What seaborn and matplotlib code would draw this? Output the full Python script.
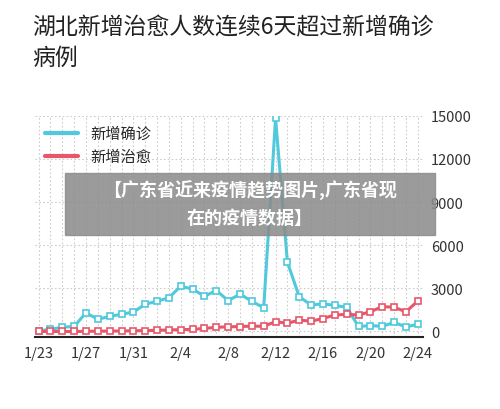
import matplotlib
matplotlib.use("Agg")
import matplotlib.pyplot as plt
import seaborn as sns
import pandas as pd

dates = ["1/23", "1/24", "1/25", "1/26", "1/27", "1/28", "1/29", "1/30", "1/31",
         "2/1", "2/2", "2/3", "2/4", "2/5", "2/6", "2/7", "2/8", "2/9", "2/10",
         "2/11", "2/12", "2/13", "2/14", "2/15", "2/16", "2/17", "2/18", "2/19",
         "2/20", "2/21", "2/22", "2/23", "2/24"]
confirmed = [50, 150, 300, 350, 1300, 850, 1050, 1200, 1350, 1900, 2100, 2350,
             3150, 2950, 2450, 2850, 2150, 2600, 2100, 1650, 14840, 4820, 2420,
             1840, 1930, 1810, 1690, 350, 410, 360, 630, 320, 500]
cured = [0, 0, 0, 0, 15, 20, 30, 35, 50, 65, 80, 110, 130, 145, 215, 290,
         325, 345, 375, 360, 685, 575, 790, 720, 900, 1150, 1190, 1150,
         1370, 1730, 1690, 1370, 2120]
tick_labels = ["1/23", "1/27", "1/31", "2/4", "2/8", "2/12", "2/16", "2/20", "2/24"]

sns.set_style("white")
plt.rcParams["font.family"] = ["Noto Sans CJK SC", "DejaVu Sans"]

df = pd.DataFrame({"x": range(len(dates)), "confirmed": confirmed, "cured": cured})

fig = plt.figure(figsize=(5, 4.1), dpi=100)
ax = fig.add_axes([0.07, 0.175, 0.775, 0.54])
blue, red = "#4fc9db", "#e8566a"
sns.lineplot(data=df, x="x", y="confirmed", ax=ax, color=blue, lw=2.2,
             marker="s", markersize=4.5, markerfacecolor="white",
             markeredgecolor=blue, markeredgewidth=1.2, label="新增确诊")
sns.lineplot(data=df, x="x", y="cured", ax=ax, color=red, lw=2.2,
             marker="s", markersize=4.5, markerfacecolor="white",
             markeredgecolor=red, markeredgewidth=1.2, label="新增治愈")

ax.set_xlim(-0.3, len(dates) - 0.6)
ax.set_ylim(-400, 15000)
ax.yaxis.tick_right()
ax.set_yticks([0, 3000, 6000, 9000, 12000, 15000])
ax.set_xticks([dates.index(t) for t in tick_labels])
ax.set_xticklabels(tick_labels)
ax.set_xlabel("")
ax.set_ylabel("")
ax.tick_params(labelsize=10.5, colors="#333333", length=0, pad=6)
ax.set_xticks(range(len(dates)), minor=True)
ax.grid(True, which="both", axis="x", ls=(0, (1.5, 2)), color="#cccccc", lw=0.8)
ax.grid(True, axis="y", ls=(0, (1.5, 2)), color="#cccccc", lw=0.8)
for s in ["top", "right", "left"]:
    ax.spines[s].set_visible(False)
ax.spines["bottom"].set_color("#222222")
ax.spines["bottom"].set_linewidth(1.5)
ax.legend(loc="upper left", frameon=False, fontsize=11, handlelength=2.2,
          bbox_to_anchor=(-0.01, 1.02), labelspacing=0.4)
for line in ax.get_legend().get_lines():
    line.set_marker("")
    line.set_linewidth(3)

fig.text(0.065, 0.96, "湖北新增治愈人数连续6天超过新增确诊", fontsize=16.5,
         color="#222222", va="top")
fig.text(0.065, 0.885, "病例", fontsize=16.5, color="#222222", va="top")

fig.patches.append(plt.Rectangle((0.13, 0.425), 0.74, 0.15, transform=fig.transFigure,
                                 color="#8a8a8a", alpha=0.85, zorder=5))
fig.text(0.5, 0.535, "【广东省近来疫情趋势图片,广东省现", fontsize=13, color="white",
         ha="center", va="center", weight="bold", zorder=6)
fig.text(0.5, 0.468, "在的疫情数据】", fontsize=13, color="white",
         ha="center", va="center", weight="bold", zorder=6)

fig.savefig("out.png", dpi=100)
